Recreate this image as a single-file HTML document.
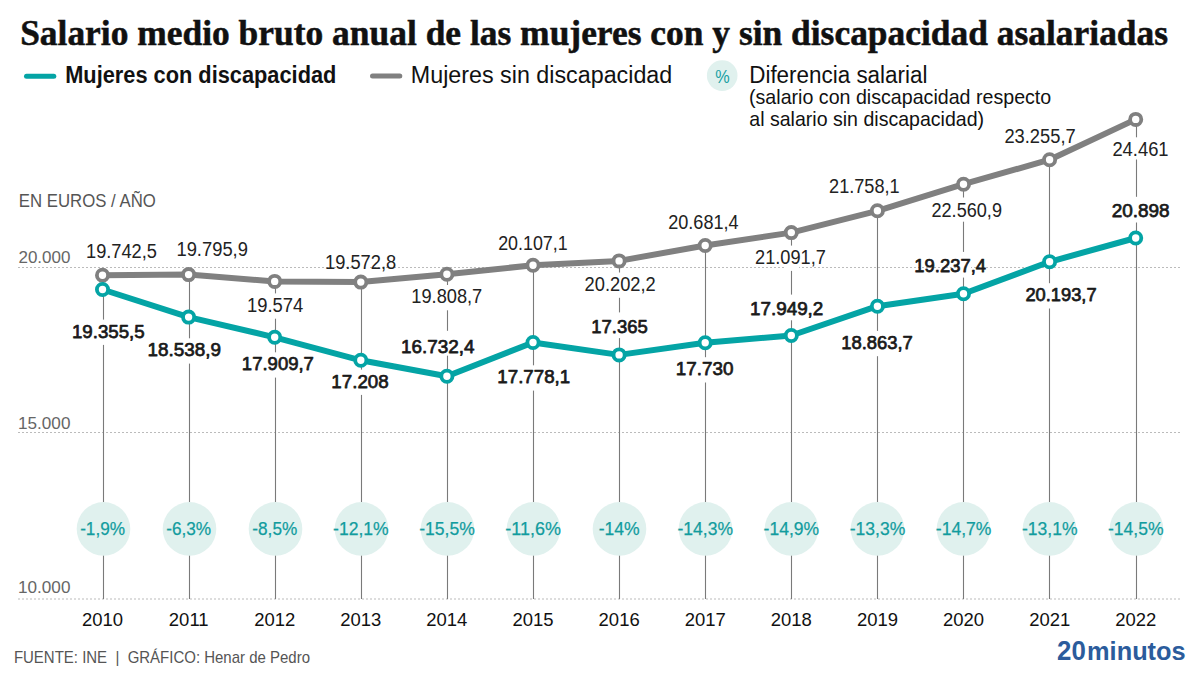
<!DOCTYPE html><html><head><meta charset="utf-8"><style>html,body{margin:0;padding:0;background:#fff;}svg{display:block}</style></head><body>
<svg width="1200" height="675" viewBox="0 0 1200 675">
<rect width="1200" height="675" fill="#fff"/>
<text x="20.15" y="44.60" font-size="34.96" font-family="'Liberation Serif', serif" font-weight="bold" fill="#111" textLength="1147.92" lengthAdjust="spacingAndGlyphs" stroke="#111" stroke-width="0.5">Salario medio bruto anual de las mujeres con y sin discapacidad asalariadas</text>
<line x1="26.5" y1="76.3" x2="53.8" y2="76.3" stroke="#04a4a5" stroke-width="5" stroke-linecap="round"/>
<text x="65.18" y="82.65" font-size="23.55" font-family="'Liberation Sans', sans-serif" font-weight="bold" fill="#111" textLength="271.21" lengthAdjust="spacingAndGlyphs">Mujeres con discapacidad</text>
<line x1="372.5" y1="76.0" x2="399.8" y2="76.0" stroke="#808080" stroke-width="5" stroke-linecap="round"/>
<text x="410.84" y="82.65" font-size="23.33" font-family="'Liberation Sans', sans-serif" font-weight="normal" fill="#111" textLength="261.45" lengthAdjust="spacingAndGlyphs">Mujeres sin discapacidad</text>
<circle cx="722.2" cy="75.6" r="15.3" fill="#e0f1ee"/>
<text x="715.13" y="82.70" font-size="19.13" font-family="'Liberation Sans', sans-serif" font-weight="normal" fill="#17a0a3" textLength="14.42" lengthAdjust="spacingAndGlyphs">%</text>
<text x="749.21" y="82.60" font-size="23.04" font-family="'Liberation Sans', sans-serif" font-weight="normal" fill="#111" textLength="178.22" lengthAdjust="spacingAndGlyphs">Diferencia salarial</text>
<text x="749.02" y="104.20" font-size="20.29" font-family="'Liberation Sans', sans-serif" font-weight="normal" fill="#111" textLength="302.22" lengthAdjust="spacingAndGlyphs">(salario con discapacidad respecto</text>
<text x="749.32" y="125.80" font-size="20.29" font-family="'Liberation Sans', sans-serif" font-weight="normal" fill="#111" textLength="234.79" lengthAdjust="spacingAndGlyphs">al salario sin discapacidad)</text>
<text x="18.86" y="206.80" font-size="18.55" font-family="'Liberation Sans', sans-serif" font-weight="normal" fill="#555" textLength="136.96" lengthAdjust="spacingAndGlyphs">EN EUROS / AÑO</text>
<line x1="18" y1="267.5" x2="1180" y2="267.5" stroke="#bbb" stroke-width="1" stroke-dasharray="2 2"/>
<text x="18.45" y="262.80" font-size="17.39" font-family="'Liberation Sans', sans-serif" font-weight="normal" fill="#666" textLength="52.01" lengthAdjust="spacingAndGlyphs">20.000</text>
<line x1="18" y1="432.5" x2="1180" y2="432.5" stroke="#bbb" stroke-width="1" stroke-dasharray="2 2"/>
<text x="18.01" y="428.80" font-size="17.39" font-family="'Liberation Sans', sans-serif" font-weight="normal" fill="#666" textLength="52.45" lengthAdjust="spacingAndGlyphs">15.000</text>
<line x1="18" y1="599.0" x2="1180" y2="599.0" stroke="#bbb" stroke-width="1" stroke-dasharray="2 2"/>
<text x="18.01" y="592.80" font-size="17.39" font-family="'Liberation Sans', sans-serif" font-weight="normal" fill="#666" textLength="52.45" lengthAdjust="spacingAndGlyphs">10.000</text>
<line x1="103.50" y1="275.20" x2="103.50" y2="599" stroke="#7a7a7a" stroke-width="1.1"/>
<line x1="189.50" y1="274.60" x2="189.50" y2="599" stroke="#7a7a7a" stroke-width="1.1"/>
<line x1="275.50" y1="281.40" x2="275.50" y2="599" stroke="#7a7a7a" stroke-width="1.1"/>
<line x1="361.50" y1="282.10" x2="361.50" y2="599" stroke="#7a7a7a" stroke-width="1.1"/>
<line x1="447.50" y1="274.20" x2="447.50" y2="599" stroke="#7a7a7a" stroke-width="1.1"/>
<line x1="533.50" y1="265.30" x2="533.50" y2="599" stroke="#7a7a7a" stroke-width="1.1"/>
<line x1="619.50" y1="260.90" x2="619.50" y2="599" stroke="#7a7a7a" stroke-width="1.1"/>
<line x1="705.50" y1="245.50" x2="705.50" y2="599" stroke="#7a7a7a" stroke-width="1.1"/>
<line x1="791.50" y1="232.60" x2="791.50" y2="599" stroke="#7a7a7a" stroke-width="1.1"/>
<line x1="877.50" y1="210.80" x2="877.50" y2="599" stroke="#7a7a7a" stroke-width="1.1"/>
<line x1="963.50" y1="184.20" x2="963.50" y2="599" stroke="#7a7a7a" stroke-width="1.1"/>
<line x1="1049.50" y1="159.70" x2="1049.50" y2="599" stroke="#7a7a7a" stroke-width="1.1"/>
<line x1="1136.50" y1="119.40" x2="1136.50" y2="599" stroke="#7a7a7a" stroke-width="1.1"/>
<rect x="96.00" y="237.10" width="15" height="25.70" fill="#fff"/>
<rect x="96.00" y="319.60" width="15" height="25.30" fill="#fff"/>
<rect x="182.00" y="235.90" width="15" height="25.70" fill="#fff"/>
<rect x="182.00" y="338.30" width="15" height="25.30" fill="#fff"/>
<rect x="268.00" y="293.40" width="15" height="25.30" fill="#fff"/>
<rect x="268.00" y="352.30" width="15" height="25.30" fill="#fff"/>
<rect x="354.00" y="248.40" width="15" height="25.70" fill="#fff"/>
<rect x="354.00" y="369.60" width="15" height="25.30" fill="#fff"/>
<rect x="440.00" y="285.00" width="15" height="25.30" fill="#fff"/>
<rect x="440.00" y="330.80" width="15" height="24.90" fill="#fff"/>
<rect x="526.00" y="229.90" width="15" height="25.70" fill="#fff"/>
<rect x="526.00" y="365.30" width="15" height="25.30" fill="#fff"/>
<rect x="612.00" y="272.50" width="15" height="25.30" fill="#fff"/>
<rect x="612.00" y="312.40" width="15" height="25.70" fill="#fff"/>
<rect x="698.00" y="208.20" width="15" height="25.70" fill="#fff"/>
<rect x="698.00" y="357.20" width="15" height="25.30" fill="#fff"/>
<rect x="784.00" y="245.60" width="15" height="25.30" fill="#fff"/>
<rect x="784.00" y="294.60" width="15" height="25.70" fill="#fff"/>
<rect x="870.00" y="172.70" width="15" height="25.70" fill="#fff"/>
<rect x="870.00" y="330.90" width="15" height="25.30" fill="#fff"/>
<rect x="956.00" y="197.50" width="15" height="24.20" fill="#fff"/>
<rect x="956.00" y="251.90" width="15" height="25.70" fill="#fff"/>
<rect x="1042.00" y="122.20" width="15" height="25.70" fill="#fff"/>
<rect x="1042.00" y="283.20" width="15" height="25.30" fill="#fff"/>
<rect x="1129.00" y="137.30" width="15" height="22.20" fill="#fff"/>
<rect x="1129.00" y="196.80" width="15" height="25.70" fill="#fff"/>
<polyline points="102.50,275.20 188.60,274.60 274.70,281.40 360.80,282.10 446.90,274.20 533.00,265.30 619.10,260.90 705.20,245.50 791.30,232.60 877.40,210.80 963.50,184.20 1049.60,159.70 1135.70,119.40" fill="none" stroke="#808080" stroke-width="6" stroke-linejoin="round"/>
<polyline points="102.50,289.50 188.60,317.10 274.70,337.30 360.80,360.30 446.90,376.30 533.00,342.50 619.10,354.90 705.20,342.80 791.30,335.50 877.40,306.20 963.50,293.80 1049.60,261.80 1135.70,238.00" fill="none" stroke="#04a4a5" stroke-width="6" stroke-linejoin="round"/>
<circle cx="102.50" cy="275.20" r="5.6" fill="#fff" stroke="#808080" stroke-width="3.8"/>
<circle cx="188.60" cy="274.60" r="5.6" fill="#fff" stroke="#808080" stroke-width="3.8"/>
<circle cx="274.70" cy="281.40" r="5.6" fill="#fff" stroke="#808080" stroke-width="3.8"/>
<circle cx="360.80" cy="282.10" r="5.6" fill="#fff" stroke="#808080" stroke-width="3.8"/>
<circle cx="446.90" cy="274.20" r="5.6" fill="#fff" stroke="#808080" stroke-width="3.8"/>
<circle cx="533.00" cy="265.30" r="5.6" fill="#fff" stroke="#808080" stroke-width="3.8"/>
<circle cx="619.10" cy="260.90" r="5.6" fill="#fff" stroke="#808080" stroke-width="3.8"/>
<circle cx="705.20" cy="245.50" r="5.6" fill="#fff" stroke="#808080" stroke-width="3.8"/>
<circle cx="791.30" cy="232.60" r="5.6" fill="#fff" stroke="#808080" stroke-width="3.8"/>
<circle cx="877.40" cy="210.80" r="5.6" fill="#fff" stroke="#808080" stroke-width="3.8"/>
<circle cx="963.50" cy="184.20" r="5.6" fill="#fff" stroke="#808080" stroke-width="3.8"/>
<circle cx="1049.60" cy="159.70" r="5.6" fill="#fff" stroke="#808080" stroke-width="3.8"/>
<circle cx="1135.70" cy="119.40" r="5.6" fill="#fff" stroke="#808080" stroke-width="3.8"/>
<circle cx="102.50" cy="289.50" r="5.6" fill="#fff" stroke="#04a4a5" stroke-width="3.8"/>
<circle cx="188.60" cy="317.10" r="5.6" fill="#fff" stroke="#04a4a5" stroke-width="3.8"/>
<circle cx="274.70" cy="337.30" r="5.6" fill="#fff" stroke="#04a4a5" stroke-width="3.8"/>
<circle cx="360.80" cy="360.30" r="5.6" fill="#fff" stroke="#04a4a5" stroke-width="3.8"/>
<circle cx="446.90" cy="376.30" r="5.6" fill="#fff" stroke="#04a4a5" stroke-width="3.8"/>
<circle cx="533.00" cy="342.50" r="5.6" fill="#fff" stroke="#04a4a5" stroke-width="3.8"/>
<circle cx="619.10" cy="354.90" r="5.6" fill="#fff" stroke="#04a4a5" stroke-width="3.8"/>
<circle cx="705.20" cy="342.80" r="5.6" fill="#fff" stroke="#04a4a5" stroke-width="3.8"/>
<circle cx="791.30" cy="335.50" r="5.6" fill="#fff" stroke="#04a4a5" stroke-width="3.8"/>
<circle cx="877.40" cy="306.20" r="5.6" fill="#fff" stroke="#04a4a5" stroke-width="3.8"/>
<circle cx="963.50" cy="293.80" r="5.6" fill="#fff" stroke="#04a4a5" stroke-width="3.8"/>
<circle cx="1049.60" cy="261.80" r="5.6" fill="#fff" stroke="#04a4a5" stroke-width="3.8"/>
<circle cx="1135.70" cy="238.00" r="5.6" fill="#fff" stroke="#04a4a5" stroke-width="3.8"/>
<text x="86.03" y="257.60" font-size="20.00" font-family="'Liberation Sans', sans-serif" font-weight="normal" fill="#222" textLength="70.94" lengthAdjust="spacingAndGlyphs">19.742,5</text>
<text x="176.42" y="256.40" font-size="20.00" font-family="'Liberation Sans', sans-serif" font-weight="normal" fill="#222" textLength="71.55" lengthAdjust="spacingAndGlyphs">19.795,9</text>
<text x="246.92" y="311.80" font-size="20.00" font-family="'Liberation Sans', sans-serif" font-weight="normal" fill="#222" textLength="56.31" lengthAdjust="spacingAndGlyphs">19.574</text>
<text x="325.03" y="268.90" font-size="20.00" font-family="'Liberation Sans', sans-serif" font-weight="normal" fill="#222" textLength="71.15" lengthAdjust="spacingAndGlyphs">19.572,8</text>
<text x="411.33" y="303.40" font-size="20.00" font-family="'Liberation Sans', sans-serif" font-weight="normal" fill="#222" textLength="70.93" lengthAdjust="spacingAndGlyphs">19.808,7</text>
<text x="498.21" y="250.40" font-size="20.00" font-family="'Liberation Sans', sans-serif" font-weight="normal" fill="#222" textLength="69.43" lengthAdjust="spacingAndGlyphs">20.107,1</text>
<text x="584.59" y="290.90" font-size="20.00" font-family="'Liberation Sans', sans-serif" font-weight="normal" fill="#222" textLength="71.18" lengthAdjust="spacingAndGlyphs">20.202,2</text>
<text x="668.20" y="228.70" font-size="20.00" font-family="'Liberation Sans', sans-serif" font-weight="normal" fill="#222" textLength="70.39" lengthAdjust="spacingAndGlyphs">20.681,4</text>
<text x="755.09" y="264.00" font-size="20.00" font-family="'Liberation Sans', sans-serif" font-weight="normal" fill="#222" textLength="70.77" lengthAdjust="spacingAndGlyphs">21.091,7</text>
<text x="829.09" y="193.20" font-size="20.00" font-family="'Liberation Sans', sans-serif" font-weight="normal" fill="#222" textLength="70.56" lengthAdjust="spacingAndGlyphs">21.758,1</text>
<text x="931.49" y="217.30" font-size="20.00" font-family="'Liberation Sans', sans-serif" font-weight="normal" fill="#222" textLength="70.47" lengthAdjust="spacingAndGlyphs">22.560,9</text>
<text x="1004.38" y="142.70" font-size="20.00" font-family="'Liberation Sans', sans-serif" font-weight="normal" fill="#222" textLength="71.28" lengthAdjust="spacingAndGlyphs">23.255,7</text>
<text x="1112.38" y="155.70" font-size="20.00" font-family="'Liberation Sans', sans-serif" font-weight="normal" fill="#222" textLength="56.21" lengthAdjust="spacingAndGlyphs">24.461</text>
<text x="71.95" y="337.65" font-size="18.99" font-family="'Liberation Sans', sans-serif" font-weight="normal" fill="#1a1a1a" textLength="72.70" lengthAdjust="spacingAndGlyphs" stroke="#1a1a1a" stroke-width="0.75" stroke-linejoin="round">19.355,5</text>
<text x="147.54" y="356.35" font-size="18.99" font-family="'Liberation Sans', sans-serif" font-weight="normal" fill="#1a1a1a" textLength="73.41" lengthAdjust="spacingAndGlyphs" stroke="#1a1a1a" stroke-width="0.75" stroke-linejoin="round">18.538,9</text>
<text x="241.86" y="370.35" font-size="18.99" font-family="'Liberation Sans', sans-serif" font-weight="normal" fill="#1a1a1a" textLength="72.06" lengthAdjust="spacingAndGlyphs" stroke="#1a1a1a" stroke-width="0.75" stroke-linejoin="round">17.909,7</text>
<text x="331.34" y="387.65" font-size="18.99" font-family="'Liberation Sans', sans-serif" font-weight="normal" fill="#1a1a1a" textLength="57.33" lengthAdjust="spacingAndGlyphs" stroke="#1a1a1a" stroke-width="0.75" stroke-linejoin="round">17.208</text>
<text x="400.93" y="353.15" font-size="18.99" font-family="'Liberation Sans', sans-serif" font-weight="normal" fill="#1a1a1a" textLength="73.53" lengthAdjust="spacingAndGlyphs" stroke="#1a1a1a" stroke-width="0.75" stroke-linejoin="round">16.732,4</text>
<text x="497.35" y="383.35" font-size="18.99" font-family="'Liberation Sans', sans-serif" font-weight="normal" fill="#1a1a1a" textLength="72.79" lengthAdjust="spacingAndGlyphs" stroke="#1a1a1a" stroke-width="0.75" stroke-linejoin="round">17.778,1</text>
<text x="591.26" y="332.55" font-size="18.99" font-family="'Liberation Sans', sans-serif" font-weight="normal" fill="#1a1a1a" textLength="56.50" lengthAdjust="spacingAndGlyphs" stroke="#1a1a1a" stroke-width="0.75" stroke-linejoin="round">17.365</text>
<text x="675.84" y="375.25" font-size="18.99" font-family="'Liberation Sans', sans-serif" font-weight="normal" fill="#1a1a1a" textLength="57.64" lengthAdjust="spacingAndGlyphs" stroke="#1a1a1a" stroke-width="0.75" stroke-linejoin="round">17.730</text>
<text x="750.04" y="314.75" font-size="18.99" font-family="'Liberation Sans', sans-serif" font-weight="normal" fill="#1a1a1a" textLength="73.30" lengthAdjust="spacingAndGlyphs" stroke="#1a1a1a" stroke-width="0.75" stroke-linejoin="round">17.949,2</text>
<text x="841.17" y="348.95" font-size="18.99" font-family="'Liberation Sans', sans-serif" font-weight="normal" fill="#1a1a1a" textLength="71.65" lengthAdjust="spacingAndGlyphs" stroke="#1a1a1a" stroke-width="0.75" stroke-linejoin="round">18.863,7</text>
<text x="914.37" y="272.05" font-size="18.99" font-family="'Liberation Sans', sans-serif" font-weight="normal" fill="#1a1a1a" textLength="71.68" lengthAdjust="spacingAndGlyphs" stroke="#1a1a1a" stroke-width="0.75" stroke-linejoin="round">19.237,4</text>
<text x="1025.44" y="301.25" font-size="18.99" font-family="'Liberation Sans', sans-serif" font-weight="normal" fill="#1a1a1a" textLength="71.18" lengthAdjust="spacingAndGlyphs" stroke="#1a1a1a" stroke-width="0.75" stroke-linejoin="round">20.193,7</text>
<text x="1111.70" y="216.95" font-size="18.99" font-family="'Liberation Sans', sans-serif" font-weight="normal" fill="#1a1a1a" textLength="57.98" lengthAdjust="spacingAndGlyphs" stroke="#1a1a1a" stroke-width="0.75" stroke-linejoin="round">20.898</text>
<circle cx="103.50" cy="528.9" r="26.8" fill="#e0f1ee"/>
<text x="80.13" y="534.70" font-size="19.13" font-family="'Liberation Sans', sans-serif" font-weight="normal" fill="#129c9e" textLength="44.93" lengthAdjust="spacingAndGlyphs" stroke="#129c9e" stroke-width="0.25">-1,9%</text>
<circle cx="189.50" cy="528.9" r="26.8" fill="#e0f1ee"/>
<text x="166.23" y="534.70" font-size="19.13" font-family="'Liberation Sans', sans-serif" font-weight="normal" fill="#129c9e" textLength="44.93" lengthAdjust="spacingAndGlyphs" stroke="#129c9e" stroke-width="0.25">-6,3%</text>
<circle cx="275.50" cy="528.9" r="26.8" fill="#e0f1ee"/>
<text x="252.33" y="534.70" font-size="19.13" font-family="'Liberation Sans', sans-serif" font-weight="normal" fill="#129c9e" textLength="44.93" lengthAdjust="spacingAndGlyphs" stroke="#129c9e" stroke-width="0.25">-8,5%</text>
<circle cx="361.50" cy="528.9" r="26.8" fill="#e0f1ee"/>
<text x="333.06" y="534.70" font-size="19.13" font-family="'Liberation Sans', sans-serif" font-weight="normal" fill="#129c9e" textLength="55.68" lengthAdjust="spacingAndGlyphs" stroke="#129c9e" stroke-width="0.25">-12,1%</text>
<circle cx="447.50" cy="528.9" r="26.8" fill="#e0f1ee"/>
<text x="419.16" y="534.70" font-size="19.13" font-family="'Liberation Sans', sans-serif" font-weight="normal" fill="#129c9e" textLength="55.68" lengthAdjust="spacingAndGlyphs" stroke="#129c9e" stroke-width="0.25">-15,5%</text>
<circle cx="533.50" cy="528.9" r="26.8" fill="#e0f1ee"/>
<text x="505.29" y="534.70" font-size="19.13" font-family="'Liberation Sans', sans-serif" font-weight="normal" fill="#129c9e" textLength="55.63" lengthAdjust="spacingAndGlyphs" stroke="#129c9e" stroke-width="0.25">-11,6%</text>
<circle cx="619.50" cy="528.9" r="26.8" fill="#e0f1ee"/>
<text x="598.71" y="534.70" font-size="19.13" font-family="'Liberation Sans', sans-serif" font-weight="normal" fill="#129c9e" textLength="41.00" lengthAdjust="spacingAndGlyphs" stroke="#129c9e" stroke-width="0.25">-14%</text>
<circle cx="705.50" cy="528.9" r="26.8" fill="#e0f1ee"/>
<text x="677.51" y="534.70" font-size="19.13" font-family="'Liberation Sans', sans-serif" font-weight="normal" fill="#129c9e" textLength="55.58" lengthAdjust="spacingAndGlyphs" stroke="#129c9e" stroke-width="0.25">-14,3%</text>
<circle cx="791.50" cy="528.9" r="26.8" fill="#e0f1ee"/>
<text x="763.61" y="534.70" font-size="19.13" font-family="'Liberation Sans', sans-serif" font-weight="normal" fill="#129c9e" textLength="55.58" lengthAdjust="spacingAndGlyphs" stroke="#129c9e" stroke-width="0.25">-14,9%</text>
<circle cx="877.50" cy="528.9" r="26.8" fill="#e0f1ee"/>
<text x="849.71" y="534.70" font-size="19.13" font-family="'Liberation Sans', sans-serif" font-weight="normal" fill="#129c9e" textLength="55.58" lengthAdjust="spacingAndGlyphs" stroke="#129c9e" stroke-width="0.25">-13,3%</text>
<circle cx="963.50" cy="528.9" r="26.8" fill="#e0f1ee"/>
<text x="935.81" y="534.70" font-size="19.13" font-family="'Liberation Sans', sans-serif" font-weight="normal" fill="#129c9e" textLength="55.58" lengthAdjust="spacingAndGlyphs" stroke="#129c9e" stroke-width="0.25">-14,7%</text>
<circle cx="1049.50" cy="528.9" r="26.8" fill="#e0f1ee"/>
<text x="1021.91" y="534.70" font-size="19.13" font-family="'Liberation Sans', sans-serif" font-weight="normal" fill="#129c9e" textLength="55.58" lengthAdjust="spacingAndGlyphs" stroke="#129c9e" stroke-width="0.25">-13,1%</text>
<circle cx="1136.50" cy="528.9" r="26.8" fill="#e0f1ee"/>
<text x="1108.01" y="534.70" font-size="19.13" font-family="'Liberation Sans', sans-serif" font-weight="normal" fill="#129c9e" textLength="55.58" lengthAdjust="spacingAndGlyphs" stroke="#129c9e" stroke-width="0.25">-14,5%</text>
<text x="81.95" y="625.70" font-size="18.48" font-family="'Liberation Sans', sans-serif" font-weight="normal" fill="#111" textLength="41.11" lengthAdjust="spacingAndGlyphs">2010</text>
<text x="168.84" y="625.70" font-size="18.48" font-family="'Liberation Sans', sans-serif" font-weight="normal" fill="#111" textLength="39.74" lengthAdjust="spacingAndGlyphs">2011</text>
<text x="254.24" y="625.70" font-size="18.48" font-family="'Liberation Sans', sans-serif" font-weight="normal" fill="#111" textLength="41.11" lengthAdjust="spacingAndGlyphs">2012</text>
<text x="340.30" y="625.70" font-size="18.48" font-family="'Liberation Sans', sans-serif" font-weight="normal" fill="#111" textLength="41.11" lengthAdjust="spacingAndGlyphs">2013</text>
<text x="426.26" y="625.70" font-size="18.48" font-family="'Liberation Sans', sans-serif" font-weight="normal" fill="#111" textLength="41.11" lengthAdjust="spacingAndGlyphs">2014</text>
<text x="512.45" y="625.70" font-size="18.48" font-family="'Liberation Sans', sans-serif" font-weight="normal" fill="#111" textLength="41.11" lengthAdjust="spacingAndGlyphs">2015</text>
<text x="598.60" y="625.70" font-size="18.48" font-family="'Liberation Sans', sans-serif" font-weight="normal" fill="#111" textLength="41.11" lengthAdjust="spacingAndGlyphs">2016</text>
<text x="684.74" y="625.70" font-size="18.48" font-family="'Liberation Sans', sans-serif" font-weight="normal" fill="#111" textLength="41.11" lengthAdjust="spacingAndGlyphs">2017</text>
<text x="770.75" y="625.70" font-size="18.48" font-family="'Liberation Sans', sans-serif" font-weight="normal" fill="#111" textLength="41.11" lengthAdjust="spacingAndGlyphs">2018</text>
<text x="856.90" y="625.70" font-size="18.48" font-family="'Liberation Sans', sans-serif" font-weight="normal" fill="#111" textLength="41.11" lengthAdjust="spacingAndGlyphs">2019</text>
<text x="942.95" y="625.70" font-size="18.48" font-family="'Liberation Sans', sans-serif" font-weight="normal" fill="#111" textLength="41.11" lengthAdjust="spacingAndGlyphs">2020</text>
<text x="1029.14" y="625.70" font-size="18.48" font-family="'Liberation Sans', sans-serif" font-weight="normal" fill="#111" textLength="41.11" lengthAdjust="spacingAndGlyphs">2021</text>
<text x="1115.24" y="625.70" font-size="18.48" font-family="'Liberation Sans', sans-serif" font-weight="normal" fill="#111" textLength="41.11" lengthAdjust="spacingAndGlyphs">2022</text>
<text x="13.90" y="663.00" font-size="17.39" font-family="'Liberation Sans', sans-serif" font-weight="normal" fill="#555" textLength="296.10" lengthAdjust="spacingAndGlyphs" xml:space="preserve">FUENTE: INE  |  GRÁFICO: Henar de Pedro</text>
<text x="1057.10" y="659.60" font-size="28.41" font-family="'Liberation Sans', sans-serif" font-weight="bold" fill="#2b5c9c" textLength="28.70" lengthAdjust="spacingAndGlyphs">20</text>
<text x="1087.05" y="659.60" font-size="26.52" font-family="'Liberation Sans', sans-serif" font-weight="bold" fill="#2b5c9c" textLength="98.63" lengthAdjust="spacingAndGlyphs">minutos</text>
</svg></body></html>
